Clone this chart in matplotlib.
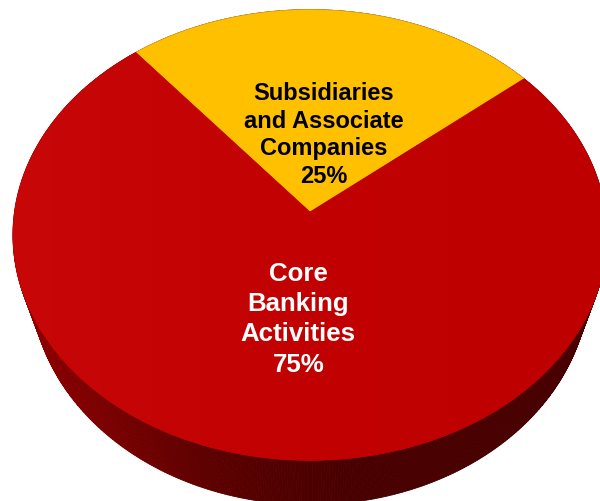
import numpy as np
import matplotlib
matplotlib.use("Agg")
import matplotlib.pyplot as plt
from matplotlib.patches import Polygon
from matplotlib.collections import PolyCollection

# ---- data ----
labels = ["Subsidiaries\nand Associate\nCompanies", "Core\nBanking\nActivities"]
shares = [25, 75]
slice_colors = ["#FFC000", "#C00000"]
text_colors = ["black", "white"]
text_sizes = [17, 18.6]
text_spacing = [1.25, 1.33]
label_radius = [0.36, 0.46]
start_angle = 39.5

# ---- 3D perspective camera for the tilted pie ----
CX, CY = 310.0, 212.0       # screen position of the pie centre
FOCAL = 1900.0
DIST = 6.43
ELEV = np.radians(49.0)
THICK = 0.25                # pie thickness (radius = 1)
CONVERGE = 0.968            # extra narrowing of the lower rim


def project(u, w, y=0.0):
    """u: right, w: away from viewer, y: up (pie top at y=0)."""
    depth = DIST - y * np.sin(ELEV) + w * np.cos(ELEV)
    v = y * np.cos(ELEV) + w * np.sin(ELEV)
    return CX + FOCAL * u / depth, CY - FOCAL * v / depth


fig = plt.figure(figsize=(6.0, 5.01), dpi=100)
ax = fig.add_axes([0, 0, 1, 1])
ax.set_xlim(0, 600)
ax.set_ylim(501, 0)
ax.axis("off")

# slice angles from the shares
fractions = np.array(shares, dtype=float) / np.sum(shares)
edges = start_angle + 360.0 * np.concatenate([[0.0], np.cumsum(fractions)])

# ---- side wall (only the front shows; the top hides the rest) ----
phi = np.radians(np.linspace(0, 360, 721))
tx, ty = project(np.cos(phi), np.sin(phi), 0.0)
bx, by = project(np.cos(phi), np.sin(phi), -THICK)
bx = CX + (bx - CX) * CONVERGE
quads = []
shade = []
gx = [0, 30, 100, 200, 300, 360, 600]
gr = [150, 140, 122, 94, 78, 72, 72]
for i in range(len(phi) - 1):
    quads.append([(tx[i], ty[i]), (tx[i + 1], ty[i + 1]),
                  (bx[i + 1], by[i + 1]), (bx[i], by[i])])
    r = np.interp(0.5 * (tx[i] + tx[i + 1]), gx, gr) / 255.0
    shade.append((r, 0.0, 0.0))
order = np.argsort(-np.sin(0.5 * (phi[:-1] + phi[1:])))  # back to front
side = PolyCollection([quads[k] for k in order],
                      facecolors=[shade[k] for k in order],
                      edgecolors=[shade[k] for k in order],
                      linewidths=0.6, zorder=1)
ax.add_collection(side)

# ---- top faces ----
for i in range(len(shares)):
    a = np.radians(np.linspace(edges[i], edges[i + 1], 300))
    px, py = project(np.cos(a), np.sin(a))
    pts = np.column_stack([np.r_[CX, px], np.r_[CY, py]])
    poly = Polygon(pts, closed=True, facecolor=slice_colors[i],
                   edgecolor=slice_colors[i], linewidth=0.5, zorder=2)
    ax.add_patch(poly)
    if slice_colors[i] == "#C00000":
        # soft light sheen across the red face
        xs = np.linspace(0, 1, 256)
        red = np.interp(xs, [0, 0.5, 1], [200, 194, 190]) / 255.0
        grn = np.interp(xs, [0, 0.5, 1], [8, 2, 0]) / 255.0
        img = np.dstack([red, grn, grn])
        im = ax.imshow(img, extent=[0, 600, 501, 0], aspect="auto",
                       zorder=2.5, interpolation="bilinear")
        im.set_clip_path(poly)

    mid = np.radians(0.5 * (edges[i] + edges[i + 1]))
    lx, ly = project(label_radius[i] * np.cos(mid), label_radius[i] * np.sin(mid))
    ax.text(lx + (4 if i == 0 else 2), ly, f"{labels[i]}\n{shares[i]}%",
            ha="center", va="center",
            multialignment="center", color=text_colors[i],
            fontsize=text_sizes[i], fontweight="bold",
            family=["Liberation Sans", "DejaVu Sans"],
            linespacing=text_spacing[i], zorder=5)

ax.set_xlim(0, 600)
ax.set_ylim(501, 0)
fig.savefig("out.png", dpi=100, facecolor="white")
